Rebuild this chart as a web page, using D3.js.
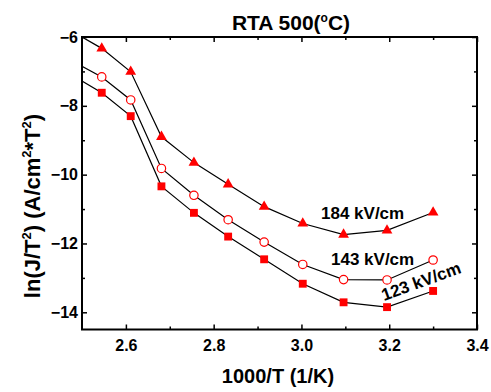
<!DOCTYPE html>
<html>
<head>
<meta charset="utf-8">
<script src="https://cdn.jsdelivr.net/npm/d3@7"></script>
<style>
  body { margin: 0; background: #fff; }
  text { font-family: "Liberation Sans", Arial, sans-serif; font-weight: bold; fill: #000; }
</style>
</head>
<body>
<svg id="chart" width="491" height="392"></svg>
<script>
// 1000/T for 120 °C down to 30 °C
const invT = [2.545, 2.611, 2.681, 2.755, 2.833, 2.915, 3.003, 3.096, 3.195, 3.300];
// ln(J/T^2) at each applied field
const field184 = [-6.33, -7.01, -8.90, -9.65, -10.28, -10.93, -11.42, -11.74, -11.62, -11.10];
const field143 = [-7.16, -7.83, -9.82, -10.60, -11.31, -11.96, -12.61, -13.05, -13.06, -12.48];
const field123 = [-7.62, -8.30, -10.34, -11.11, -11.80, -12.46, -13.17, -13.71, -13.85, -13.38];
// where each guide line meets the left frame (1000/T = 2.5)
const leadIn = [-6.0, -6.85, -7.28];
const seriesNames = ["184 kV/cm", "143 kV/cm", "123 kV/cm"];

const xMajor = [2.6, 2.8, 3.0, 3.2, 3.4];
const xMinor = [2.7, 2.9, 3.1, 3.3];
const yMajor = [-6, -8, -10, -12, -14];
const yMinor = [-7, -9, -11, -13];

const svg = d3.select("#chart");
const pLeft = 82, pRight = 477, pTop = 37, pBottom = 329.5;

const x = d3.scaleLinear().domain([2.5, 3.4]).range([pLeft, pRight]);
const y = d3.scaleLinear().domain([-14.5, -6]).range([pBottom, pTop]);

svg.append("defs").append("clipPath").attr("id", "plot")
  .append("rect").attr("x", pLeft).attr("y", pTop)
  .attr("width", pRight - pLeft).attr("height", pBottom - pTop);

// axes: ticks point into the frame
function styleAxis(g) {
  g.select(".domain").remove();
  g.selectAll(".tick line").attr("stroke", "#000").attr("stroke-width", 1.5);
  g.selectAll(".tick text").style("font-size", "16px");
}
svg.append("g").attr("transform", `translate(0,${pBottom})`)
  .call(d3.axisBottom(x).tickValues(xMajor).tickSize(-5).tickPadding(10).tickFormat(d3.format(".1f")))
  .call(styleAxis);
svg.append("g").attr("transform", `translate(0,${pBottom})`)
  .call(d3.axisBottom(x).tickValues(xMinor).tickSize(-3).tickFormat(""))
  .call(styleAxis);
svg.append("g").attr("transform", `translate(0,${pTop})`)
  .call(d3.axisTop(x).tickValues(xMajor).tickSize(-5).tickFormat(""))
  .call(styleAxis);
svg.append("g").attr("transform", `translate(0,${pTop})`)
  .call(d3.axisTop(x).tickValues(xMinor).tickSize(-3).tickFormat(""))
  .call(styleAxis);
svg.append("g").attr("transform", `translate(${pLeft},0)`)
  .call(d3.axisLeft(y).tickValues(yMajor).tickSize(-5).tickPadding(4).tickFormat(d3.format("d")))
  .call(styleAxis);
svg.append("g").attr("transform", `translate(${pLeft},0)`)
  .call(d3.axisLeft(y).tickValues(yMinor).tickSize(-3).tickFormat(""))
  .call(styleAxis);
svg.append("g").attr("transform", `translate(${pRight},0)`)
  .call(d3.axisRight(y).tickValues(yMajor).tickSize(-5).tickFormat(""))
  .call(styleAxis);
svg.append("g").attr("transform", `translate(${pRight},0)`)
  .call(d3.axisRight(y).tickValues(yMinor).tickSize(-3).tickFormat(""))
  .call(styleAxis);

// frame
svg.append("rect").attr("x", pLeft).attr("y", pTop)
  .attr("width", pRight - pLeft).attr("height", pBottom - pTop)
  .attr("fill", "none").attr("stroke", "#000").attr("stroke-width", 2);

const series = [field184, field143, field123];
const line = d3.line().x(d => x(d[0])).y(d => y(d[1]));

series.forEach((vals, i) => {
  const pts = [[2.5, leadIn[i]]].concat(invT.map((t, j) => [t, vals[j]]));
  svg.append("path").datum(pts)
    .attr("clip-path", "url(#plot)")
    .attr("d", line).attr("fill", "none")
    .attr("stroke", "#000").attr("stroke-width", 1.2);
});

const red = "#ff0000";
// 184 kV/cm: filled triangles
svg.append("g").selectAll("path").data(invT.map((t, j) => [t, field184[j]])).join("path")
  .attr("transform", d => `translate(${x(d[0])},${y(d[1])})`)
  .attr("d", d3.symbol(d3.symbolTriangle, 50)).attr("fill", red);
// 143 kV/cm: open circles
svg.append("g").selectAll("circle").data(invT.map((t, j) => [t, field143[j]])).join("circle")
  .attr("cx", d => x(d[0])).attr("cy", d => y(d[1])).attr("r", 4.2)
  .attr("fill", "#fff").attr("stroke", red).attr("stroke-width", 1.2);
// 123 kV/cm: filled squares
svg.append("g").selectAll("path").data(invT.map((t, j) => [t, field123[j]])).join("path")
  .attr("transform", d => `translate(${x(d[0])},${y(d[1])})`)
  .attr("d", d3.symbol(d3.symbolSquare, 62)).attr("fill", red);

// series labels
svg.append("text").attr("x", 321).attr("y", 219).style("font-size", "17px").text(seriesNames[0]);
svg.append("text").attr("x", 331).attr("y", 265).style("font-size", "17px").text(seriesNames[1]);
svg.append("text").attr("transform", "translate(384,301) rotate(-20)").style("font-size", "17px").text(seriesNames[2]);

// title
const title = svg.append("text").attr("x", 291).attr("y", 30)
  .attr("text-anchor", "middle").style("font-size", "21px");
title.append("tspan").text("RTA 500(");
title.append("tspan").attr("dy", -8).style("font-size", "12px").text("o");
title.append("tspan").attr("dy", 8).text("C)");

// axis titles
svg.append("text").attr("x", 278).attr("y", 383).attr("text-anchor", "middle")
  .style("font-size", "20px").text("1000/T (1/K)");

const yl = svg.append("text").attr("transform", "translate(40,206) rotate(-90)")
  .attr("text-anchor", "middle").style("font-size", "22px");
yl.append("tspan").text("ln(J/T");
yl.append("tspan").attr("dy", -9).style("font-size", "13px").text("2");
yl.append("tspan").attr("dy", 9).text(") (A/cm");
yl.append("tspan").attr("dy", -9).style("font-size", "13px").text("2");
yl.append("tspan").attr("dy", 9).text("*T");
yl.append("tspan").attr("dy", -9).style("font-size", "13px").text("2");
yl.append("tspan").attr("dy", 9).text(")");
</script>
</body>
</html>
